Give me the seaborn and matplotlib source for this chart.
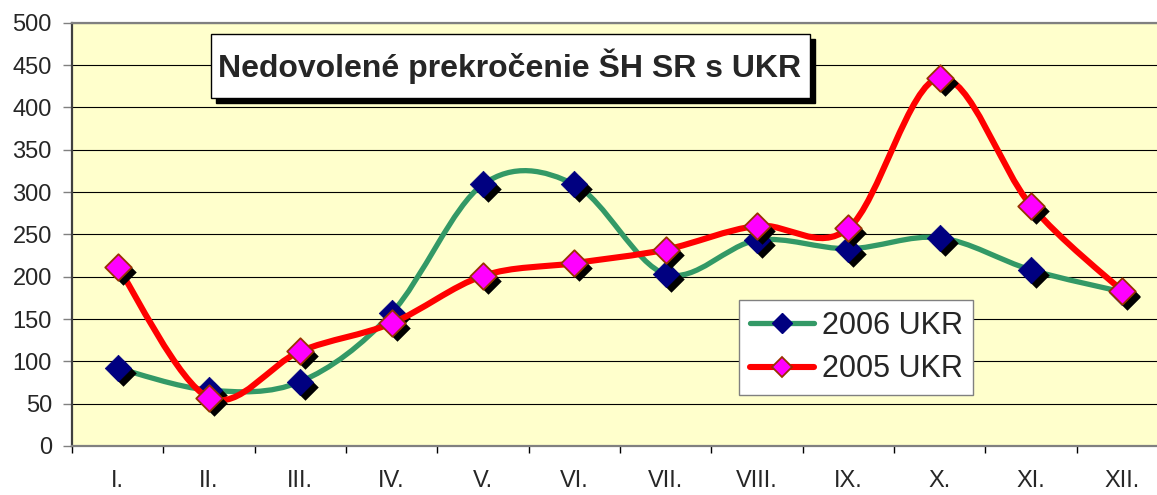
import numpy as np
import pandas as pd
import seaborn as sns
import matplotlib
matplotlib.use("Agg")
from matplotlib import pyplot as plt
from matplotlib.path import Path
from matplotlib.patches import PathPatch, Rectangle
from matplotlib.lines import Line2D
from matplotlib.transforms import offset_copy

months   = ["I.", "II.", "III.", "IV.", "V.", "VI.", "VII.", "VIII.", "IX.", "X.", "XI.", "XII."]
ukr_2006 = [92, 66, 76, 157, 309, 309, 203, 243, 233, 246, 208, 182]
ukr_2005 = [212, 57, 112, 145, 201, 216, 232, 260, 257, 435, 284, 183]
y_ticks  = [0, 50, 100, 150, 200, 250, 300, 350, 400, 450, 500]

title = "Nedovolené prekročenie ŠH SR s UKR"

df = pd.DataFrame({"month": months, "x": np.arange(len(months)),
                   "ukr_2006": ukr_2006, "ukr_2005": ukr_2005})


def smooth_path(xs, ys):
    # Excel style smoothed line: bezier segments through every point
    pts = np.column_stack([xs, ys]).astype(float)
    n = len(pts)
    verts = [pts[0]]
    codes = [Path.MOVETO]
    for i in range(n - 1):
        p0 = pts[max(i - 1, 0)]
        p1 = pts[i]
        p2 = pts[i + 1]
        p3 = pts[min(i + 2, n - 1)]
        verts += [p1 + (p2 - p0) / 6, p2 - (p3 - p1) / 6, p2]
        codes += [Path.CURVE4] * 3
    return Path(verts, codes)


sns.set_style("white")
plt.rcParams["font.family"] = ["Liberation Sans", "DejaVu Sans"]

fig = plt.figure(figsize=(11.57, 4.95), dpi=100)
ax = fig.add_axes([72 / 1157, 1 - 446 / 495, (1168 - 72) / 1157, (446 - 22.7) / 495])
ax.set_facecolor("#FFFFCC")

green, navy = "#339966", "#000080"
red, magenta, brown = "#FF0000", "#FF00FF", "#993300"
ms = 13.5

shadow = offset_copy(ax.transData, fig=fig, x=5, y=-5, units="dots")

# 2006 series
ax.add_patch(PathPatch(smooth_path(df["x"], df["ukr_2006"]), fill=False,
                       edgecolor=green, lw=3.8, capstyle="round", joinstyle="round", zorder=2))
sns.scatterplot(data=df, x="x", y="ukr_2006", marker="D", s=ms ** 2, color="black",
                edgecolor="black", linewidth=0, transform=shadow, zorder=3, ax=ax)
sns.scatterplot(data=df, x="x", y="ukr_2006", marker="D", s=ms ** 2, color=navy,
                edgecolor=navy, linewidth=0.5, zorder=4, ax=ax)

# 2005 series
ax.add_patch(PathPatch(smooth_path(df["x"], df["ukr_2005"]), fill=False,
                       edgecolor=red, lw=4.4, capstyle="round", joinstyle="round", zorder=5))
sns.scatterplot(data=df, x="x", y="ukr_2005", marker="D", s=ms ** 2, color="black",
                edgecolor="black", linewidth=0, transform=shadow, zorder=6, ax=ax)
sns.scatterplot(data=df, x="x", y="ukr_2005", marker="D", s=ms ** 2, color=magenta,
                edgecolor=brown, linewidth=1.3, zorder=7, ax=ax)

ax.set_xlim(-0.5, 11.5)
ax.set_ylim(0, 500)
ax.set_xlabel("")
ax.set_ylabel("")

ax.set_yticks(y_ticks)
ax.set_yticklabels([str(v) for v in y_ticks])
ax.tick_params(axis="y", length=6.5, width=1, color="#808080", pad=8, labelsize=17, left=True)

ax.set_xticks(np.arange(-0.5, 12, 1))
ax.set_xticklabels([])
ax.set_xticks(np.arange(12), minor=True)
ax.set_xticklabels(months, minor=True)
ax.tick_params(axis="x", which="major", length=5, width=1, color="black", bottom=True)
ax.tick_params(axis="x", which="minor", length=0, pad=17, labelsize=17)

ax.yaxis.grid(True, color="black", lw=0.8)
ax.set_axisbelow(True)
for side in ["left", "bottom", "top"]:
    ax.spines[side].set_visible(True)
    ax.spines[side].set_color("#808080")
    ax.spines[side].set_linewidth(1.6)
ax.spines["left"].set_color("#404040")
ax.spines["right"].set_visible(False)

handles = [
    Line2D([], [], color=green, lw=3.8, marker="D", ms=10.5, mfc=navy, mec=navy),
    Line2D([], [], color=red, lw=4.4, marker="D", ms=10.5, mfc=magenta, mec=brown, mew=1.3),
]
leg = ax.legend(handles, ["2006 UKR", "2005 UKR"], loc="upper left",
                bbox_to_anchor=(739 / 1157, 1 - 300 / 495), bbox_transform=fig.transFigure,
                fontsize=22, frameon=True, fancybox=False, framealpha=1,
                handlelength=2.1, handletextpad=0.25, labelspacing=0.45,
                borderpad=0.35, borderaxespad=0)
leg.get_frame().set_edgecolor("#808080")
leg.get_frame().set_linewidth(1)
leg.set_zorder(10)

# title box with shadow
fig.patches.append(Rectangle((216 / 1157, 1 - 103 / 495), (810 - 211) / 1157, (98 - 34) / 495,
                             transform=fig.transFigure, facecolor="black", edgecolor="black", zorder=20))
fig.patches.append(Rectangle((211 / 1157, 1 - 98 / 495), (810 - 211) / 1157, (98 - 34) / 495,
                             transform=fig.transFigure, facecolor="white", edgecolor="black",
                             lw=1, zorder=21))
fig.text(510 / 1157, 1 - 66 / 495, title, fontsize=23, fontweight="bold",
         ha="center", va="center", zorder=22)

fig.savefig("out.png", dpi=100)
